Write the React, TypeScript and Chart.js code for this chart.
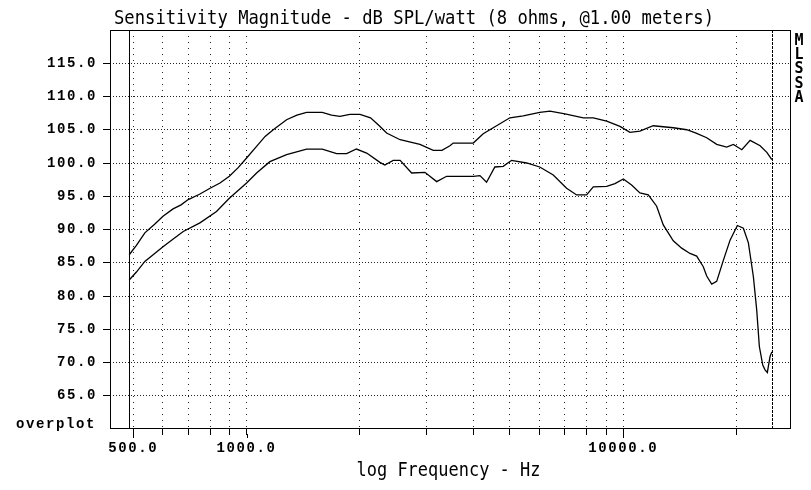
import React, { useEffect, useRef } from 'react';
import { Chart, registerables } from 'chart.js';

Chart.register(...registerables);

const TITLE = 'Sensitivity Magnitude - dB SPL/watt (8 ohms, @1.00 meters)';
const X_TITLE = 'log Frequency - Hz';
const SIDE_LETTERS = ['M', 'L', 'S', 'S', 'A'];
const CORNER_LABEL = 'overplot';

const X_MIN = 434;
const X_MAX = 27860;
const Y_MIN = 60;
const Y_MAX = 120;
const X_TICKS = [500, 600, 700, 800, 900, 1000, 2000, 3000, 4000, 5000, 6000, 7000, 8000, 9000, 10000, 20000];
const X_LABELED = [500, 1000, 10000];
const Y_TICKS = [65, 70, 75, 80, 85, 90, 95, 100, 105, 110, 115];
const DATA_START_HZ = 488;
const DATA_END_HZ = 24800;

const UPPER_FREQ = [488, 510, 537, 570, 600, 638, 670, 700, 750, 800, 850, 900, 950, 1000, 1063, 1120, 1177, 1277, 1360, 1443, 1588, 1680, 1769, 1880, 2000, 2133, 2250, 2353, 2556, 2885, 3130, 3300, 3465, 3535, 3996, 4247, 4515, 5000, 5424, 6000, 6387, 7000, 7829, 8322, 9031, 9795, 10411, 11066, 12005, 13569, 14731, 15600, 16643, 17693, 18806, 19590, 20627, 21703, 23070, 24034, 24780];
const UPPER_DB = [86.2, 87.6, 89.5, 90.8, 92.0, 93.1, 93.7, 94.5, 95.3, 96.2, 97.0, 98.0, 99.3, 100.75, 102.5, 104.0, 105.0, 106.5, 107.2, 107.6, 107.6, 107.2, 107.0, 107.3, 107.3, 106.8, 105.6, 104.5, 103.5, 102.8, 101.9, 101.9, 102.6, 103.0, 103.0, 104.4, 105.3, 106.8, 107.1, 107.6, 107.8, 107.4, 106.8, 106.8, 106.3, 105.5, 104.6, 104.8, 105.6, 105.3, 105.0, 104.5, 103.8, 102.8, 102.4, 102.8, 102.0, 103.4, 102.6, 101.6, 100.5];

const LOWER_FREQ = [488, 510, 537, 600, 640, 679, 752, 832, 900, 1000, 1063, 1153, 1277, 1443, 1588, 1734, 1843, 1957, 2083, 2259, 2327, 2450, 2556, 2742, 2974, 3195, 3396, 4000, 4163, 4335, 4560, 4799, 5050, 5536, 6000, 6516, 7070, 7516, 7989, 8322, 9031, 9502, 10000, 10517, 11066, 11645, 12258, 12763, 13569, 14284, 15029, 15654, 16300, 16643, 17160, 17693, 18433, 19198, 20072, 20826, 21472, 22138, 22594, 22961, 23442, 23773, 24110, 24512, 24780];
const LOWER_DB = [82.4, 83.6, 85.2, 87.4, 88.6, 89.7, 91.0, 92.7, 94.7, 97.0, 98.5, 100.2, 101.25, 102.1, 102.1, 101.4, 101.4, 102.1, 101.5, 100.1, 99.7, 100.4, 100.4, 98.5, 98.6, 97.2, 98.0, 98.0, 98.1, 97.1, 99.4, 99.5, 100.4, 100.0, 99.4, 98.2, 96.2, 95.2, 95.2, 96.4, 96.5, 96.9, 97.6, 96.7, 95.5, 95.2, 93.5, 90.7, 88.3, 87.2, 86.4, 86.0, 84.4, 83.0, 81.8, 82.2, 85.4, 88.4, 90.6, 90.2, 88.0, 82.9, 77.9, 72.4, 69.6, 68.9, 68.5, 70.9, 71.6];

const TICK_FONT = { family: '"Liberation Mono", "Courier New", monospace', size: 14, weight: 'bold' as const };
const LABEL_SPACING = '1.6px';

function drawScaledText(ctx: CanvasRenderingContext2D, text: string, x: number, y: number, font: string, width: number, align: CanvasTextAlign) {
  ctx.save();
  (ctx as any).letterSpacing = '0px';
  ctx.font = font;
  const w = ctx.measureText(text).width;
  const s = width / w;
  ctx.translate(x, y);
  ctx.scale(s, 1);
  ctx.textAlign = align;
  ctx.textBaseline = 'alphabetic';
  ctx.fillStyle = '#000';
  ctx.fillText(text, 0, 0);
  ctx.restore();
}

const decorPlugin = {
  id: 'decor',
  beforeDraw(chart: any) {
    (chart.ctx as any).letterSpacing = LABEL_SPACING;
  },
  beforeDatasetsDraw(chart: any) {
    const { ctx, chartArea, scales } = chart;
    const xs = scales.x;
    ctx.save();
    ctx.letterSpacing = '0px';
    ctx.strokeStyle = '#000';
    ctx.lineWidth = 1;
    const xs1 = Math.round(xs.getPixelForValue(DATA_START_HZ)) + 0.5;
    ctx.beginPath();
    ctx.moveTo(xs1, chartArea.top);
    ctx.lineTo(xs1, chartArea.bottom);
    ctx.stroke();
    const xs2 = Math.round(xs.getPixelForValue(DATA_END_HZ)) + 0.5;
    ctx.setLineDash([3, 1]);
    ctx.beginPath();
    ctx.moveTo(xs2, chartArea.top);
    ctx.lineTo(xs2, chartArea.bottom);
    ctx.stroke();
    ctx.restore();
  },
  afterDraw(chart: any) {
    const { ctx, chartArea, scales } = chart;
    const xs = scales.x;
    ctx.save();
    ctx.letterSpacing = '0px';
    ctx.strokeStyle = '#000';
    ctx.lineWidth = 1;
    ctx.strokeRect(Math.round(chartArea.left) + 0.5, Math.round(chartArea.top) + 0.5,
      Math.round(chartArea.right - chartArea.left) - 1, Math.round(chartArea.bottom - chartArea.top) - 1);
    ctx.beginPath();
    for (const v of X_LABELED) {
      const px = Math.round(xs.getPixelForValue(v)) + 0.5;
      ctx.moveTo(px, chartArea.bottom + 5);
      ctx.lineTo(px, chartArea.bottom + 9);
    }
    ctx.stroke();
    ctx.restore();

    const tallFont = '19px "DejaVu Sans Mono", monospace';
    drawScaledText(ctx, TITLE, 114, 24, tallFont, 600, 'left');
    drawScaledText(ctx, X_TITLE, (chartArea.left + chartArea.right) / 2 - 2, 476, tallFont, 184, 'center');

    ctx.save();
    ctx.fillStyle = '#000';
    ctx.font = 'bold 15px "DejaVu Sans Mono", monospace';
    ctx.letterSpacing = '0px';
    ctx.textAlign = 'center';
    ctx.textBaseline = 'middle';
    SIDE_LETTERS.forEach((ch, i) => {
      ctx.fillText(ch, 799, 41 + i * 14.25);
    });
    ctx.font = 'bold 14px "Liberation Mono", "Courier New", monospace';
    ctx.letterSpacing = LABEL_SPACING;
    ctx.textAlign = 'right';
    ctx.textBaseline = 'alphabetic';
    ctx.fillText(CORNER_LABEL, 96, 428);
    ctx.restore();
  },
};

export default function App() {
  const ref = useRef<HTMLCanvasElement | null>(null);
  useEffect(() => {
    const canvas = ref.current;
    if (!canvas) return;
    const upper = UPPER_FREQ.map((f, i) => ({ x: f, y: UPPER_DB[i] }));
    const lower = LOWER_FREQ.map((f, i) => ({ x: f, y: LOWER_DB[i] }));
    const chart = new Chart(canvas, {
      type: 'line',
      data: {
        datasets: [
          { label: 'upper', data: upper, borderColor: '#000', borderWidth: 1.3, pointRadius: 0, tension: 0, fill: false },
          { label: 'lower', data: lower, borderColor: '#000', borderWidth: 1.3, pointRadius: 0, tension: 0, fill: false },
        ],
      },
      options: {
        responsive: false,
        animation: false,
        devicePixelRatio: 1,
        layout: { padding: { top: 30, right: 20, left: 0, bottom: 0 } },
        plugins: { legend: { display: false }, tooltip: { enabled: false }, title: { display: false } },
        scales: {
          x: {
            type: 'logarithmic',
            min: X_MIN,
            max: X_MAX,
            afterBuildTicks: (s: any) => { s.ticks = X_TICKS.map((v) => ({ value: v })); },
            afterFit: (s: any) => { s.height = 61; },
            ticks: {
              autoSkip: false,
              maxRotation: 0,
              minRotation: 0,
              padding: 5,
              color: '#000',
              font: TICK_FONT,
              callback: (v: any) => (X_LABELED.includes(Number(v)) ? Number(v).toFixed(1) : ''),
            },
            grid: {
              color: '#222',
              lineWidth: 1,
              drawTicks: true,
              tickLength: 6,
              tickColor: '#000',
              tickBorderDash: [],
            },
            border: { display: false, dash: [1, 5] },
          },
          y: {
            type: 'linear',
            min: Y_MIN,
            max: Y_MAX,
            afterBuildTicks: (s: any) => { s.ticks = Y_TICKS.map((v) => ({ value: v })); },
            afterFit: (s: any) => { s.width = 110; },
            ticks: {
              padding: 6,
              color: '#000',
              font: TICK_FONT,
              callback: (v: any) => Number(v).toFixed(1),
            },
            grid: {
              color: '#222',
              lineWidth: 1,
              drawTicks: true,
              tickLength: 7,
              tickColor: '#000',
              tickBorderDash: [],
            },
            border: { display: false, dash: [1, 2] },
          },
        },
      } as any,
      plugins: [decorPlugin],
    });
    return () => chart.destroy();
  }, []);
  return (
    <div style={{ position: 'absolute', left: 0, top: 0, width: 811, height: 490, background: '#fff' }}>
      <canvas ref={ref} width={811} height={490} style={{ display: 'block' }} />
    </div>
  );
}
